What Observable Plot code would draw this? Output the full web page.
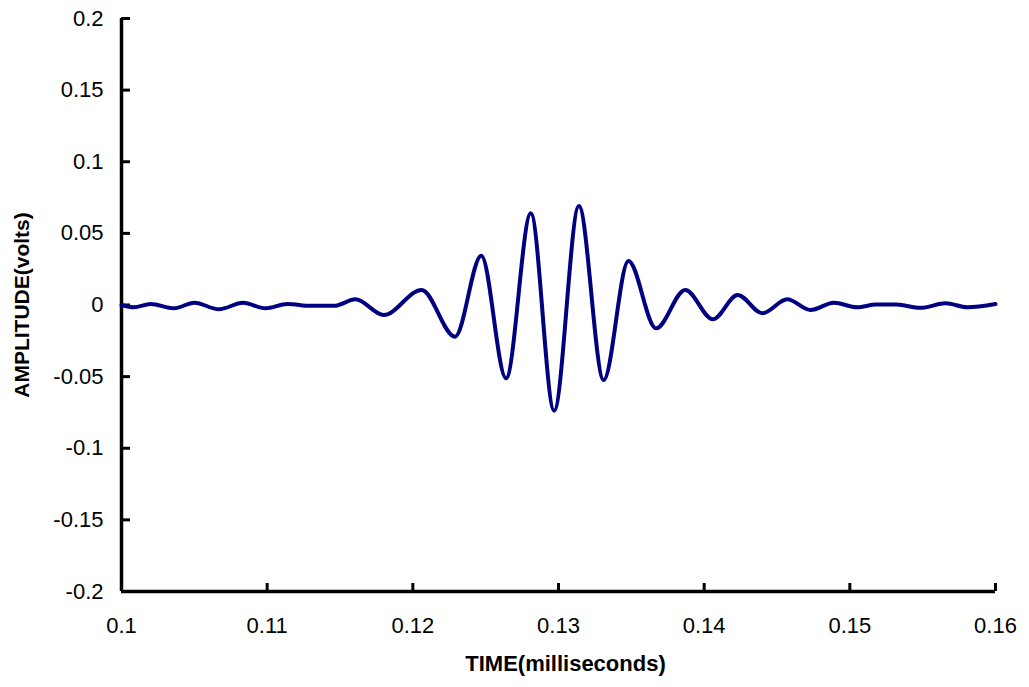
<!DOCTYPE html>
<html>
<head>
<meta charset="utf-8">
<script src="https://cdn.jsdelivr.net/npm/d3@7"></script>
<script src="https://cdn.jsdelivr.net/npm/@observablehq/plot@0.6"></script>
<style>
  html, body { margin: 0; padding: 0; background: #fff; }
</style>
</head>
<body>
<div id="chart"></div>
<script>
// Time (milliseconds) of each extremum of the waveform
const times = [
  0.1000, 0.10085, 0.1020, 0.1036, 0.1050, 0.10668, 0.10835, 0.10989, 0.11138,
  0.1130, 0.1146, 0.11606, 0.1180, 0.1206, 0.1229, 0.1247, 0.1264, 0.1281,
  0.1297, 0.1314, 0.1331, 0.1348, 0.1367, 0.1387, 0.1406, 0.1423, 0.1440,
  0.1457, 0.1473, 0.1489, 0.1505, 0.1518, 0.1532, 0.15485, 0.15657, 0.15806, 0.1600
];
// Amplitude (volts)
const amps = [
  0.0000, -0.0016, 0.0007, -0.0023, 0.0016, -0.0030, 0.0016, -0.0023, 0.0007,
  -0.0006, -0.0006, 0.0040, -0.0070, 0.0105, -0.0221, 0.0344, -0.0512, 0.0640,
  -0.0738, 0.0691, -0.0524, 0.0307, -0.0163, 0.0105, -0.0100, 0.0070, -0.0058,
  0.0040, -0.0035, 0.0016, -0.0016, 0.0003, 0.0003, -0.0020, 0.0012, -0.0016, 0.0007
];
const xTicks = [0.1, 0.11, 0.12, 0.13, 0.14, 0.15, 0.16];
const yTicks = [-0.2, -0.15, -0.1, -0.05, 0, 0.05, 0.1, 0.15, 0.2];
const xTitle = "TIME(milliseconds)";
const yTitle = "AMPLITUDE(volts)";

const data = times.map((t, i) => ({t, v: amps[i]}));

const W = 1029, H = 687;
const mL = 121, mR = 34, mT = 18, mB = 96;
const fw = W - mL - mR, fh = H - mT - mB;

const chart = Plot.plot({
  width: W,
  height: H,
  marginLeft: mL,
  marginRight: mR,
  marginTop: mT,
  marginBottom: mB,
  style: {fontFamily: "'Liberation Sans', Arial, sans-serif", background: "#fff", color: "#000"},
  x: {domain: [0.1, 0.16]},
  y: {domain: [-0.2, 0.2]},
  marks: [
    Plot.axisX(xTicks, {tickSize: 0, tickPadding: 26, fontSize: 22, tickFormat: d => String(d), label: null}),
    Plot.axisY(yTicks, {tickSize: 0, tickPadding: 18, fontSize: 22, tickFormat: d => String(d), label: null}),
    Plot.tickX(xTicks, {x: d => d, insetTop: fh - 8, stroke: "#000", strokeWidth: 3}),
    Plot.tickY(yTicks, {y: d => d, insetRight: fw - 9, stroke: "#000", strokeWidth: 3}),
    Plot.ruleX([0.1], {stroke: "#000", strokeWidth: 3.5}),
    Plot.ruleY([-0.2], {stroke: "#000", strokeWidth: 3.5}),
    Plot.line(data, {x: "t", y: "v", curve: "monotone-x", stroke: "#000080", strokeWidth: 4}),
    Plot.text([xTitle], {text: d => d, frameAnchor: "bottom", dy: 72, dx: 7, lineAnchor: "middle", textAnchor: "middle", fontWeight: "bold", fontSize: 22}),
    Plot.text([yTitle], {text: d => d, frameAnchor: "left", dx: -99, rotate: -90, lineAnchor: "middle", textAnchor: "middle", fontWeight: "bold", fontSize: 21})
  ]
});
document.getElementById("chart").appendChild(chart);
</script>
</body>
</html>
